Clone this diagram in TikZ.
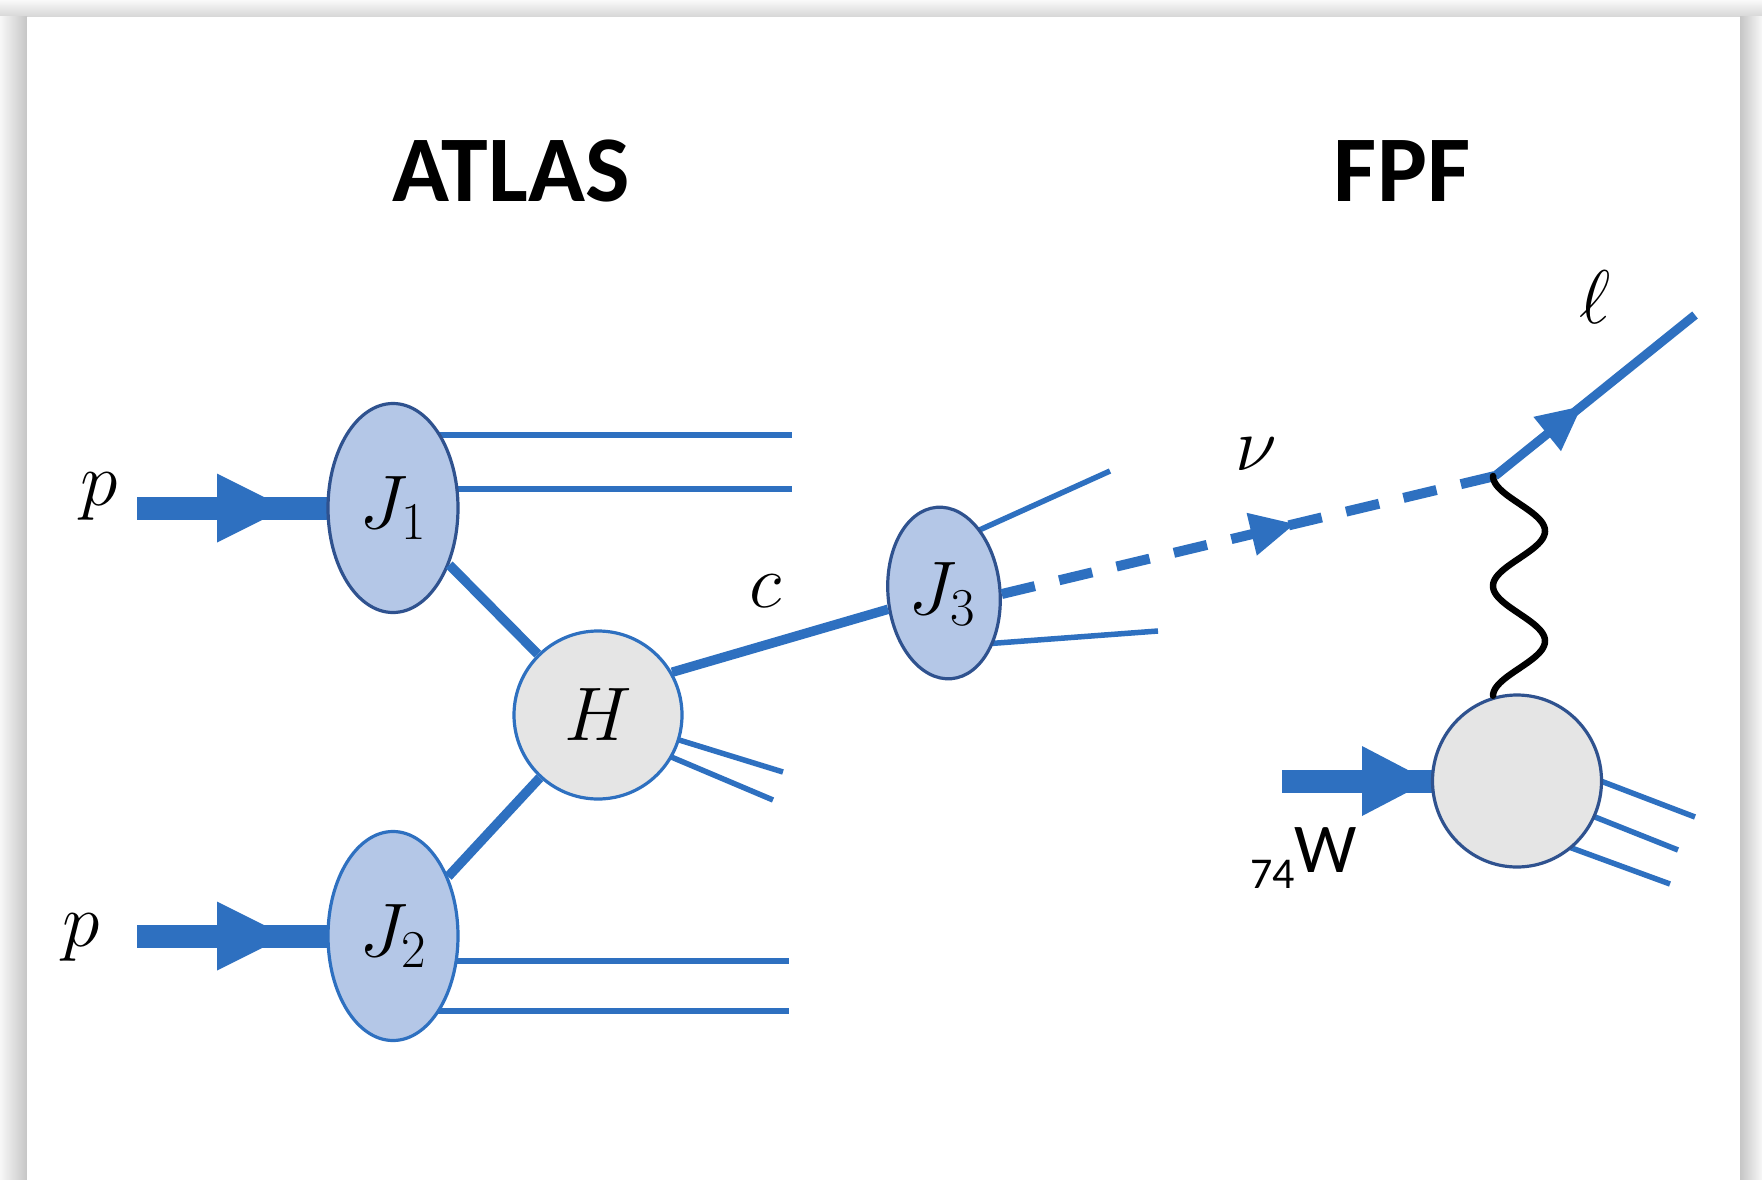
\documentclass[tikz,border=0pt]{standalone}
\usepackage{fix-cm}
\usepackage{fontspec}
\newfontfamily\calibri{Carlito}
\usetikzlibrary{calc,decorations.markings,shapes.geometric}
\pgfdeclarelayer{bg}
\pgfdeclarelayer{lines}
\pgfsetlayers{bg,lines,main}
\definecolor{lblue}{RGB}{46,112,192}
\definecolor{efill}{RGB}{180,199,231}
\definecolor{gfill}{RGB}{229,229,229}
\definecolor{dkb}{RGB}{47,82,143}
\tikzset{
  jet/.style={ellipse, fill=efill, line width=3.2pt, inner sep=0pt},
  blob/.style={ellipse, fill=gfill, line width=3.2pt, inner sep=0pt},
  thinline/.style={lblue, line width=5.5pt},
  thickline/.style={lblue, line width=9.5pt},
  barline/.style={lblue, line width=23pt},
  nuline/.style={lblue, line width=10pt, dash pattern=on 34pt off 25pt},
  lepline/.style={lblue, line width=9pt},
  waveline/.style={black, line width=6.5pt, line cap=round},
  mlabel/.style={font=\fontsize{76}{82}\selectfont, inner sep=0pt},
  title/.style={font=\calibri\bfseries\fontsize{94}{100}\selectfont, inner sep=0pt},
  arrowmark/.style n args={3}{postaction={decorate}, decoration={markings,
      mark=at position #1 with {\fill[lblue] (-#2pt,-#3pt) -- (0pt,0pt) -- (-#2pt,#3pt) -- cycle;}}}
}
\begin{document}
\begin{tikzpicture}[x=1pt,y=-1pt]
\useasboundingbox (0,0) rectangle (1762,1180);
% page with shadow
\begin{pgfonlayer}{bg}
  \fill[gray!8] (0,0) rectangle (1762,1180);
  \shade[top color=gray!5, bottom color=gray!32] (0,0) rectangle (1762,17);
  \shade[left color=gray!6, right color=gray!45] (0,17) rectangle (27,1180);
  \shade[left color=gray!45, right color=gray!6] (1740,17) rectangle (1762,1180);
  \fill[white] (27,17) rectangle (1740,1180);
\end{pgfonlayer}

% titles
\node[title] (atlas) at (511,171) {ATLAS};
\node[title] (fpf) at (1402,171) {FPF};

% blobs
\node[jet, draw=dkb, minimum width=130pt, minimum height=209pt] (J1) at (393,508)
  {\fontsize{76}{82}\selectfont\raisebox{10pt}{$J_1$}};
\node[jet, draw=lblue, minimum width=130pt, minimum height=209pt] (J2) at (393,936)
  {\fontsize{76}{82}\selectfont$J_2$};
\node[blob, draw=lblue, minimum width=168pt, minimum height=168pt] (H) at (598,715)
  {\fontsize{76}{82}\selectfont$H$};
\node[jet, draw=dkb, minimum width=112pt, minimum height=172pt, rotate=5] (J3) at (944,593) {};
\node[blob, draw=dkb, minimum width=169pt, minimum height=172pt] (N) at (1517,781) {};

% free ends
\coordinate (p1s) at (137,508);
\coordinate (p2s) at (137,936);
\coordinate (ws) at (1282,781);
\coordinate (a1) at (792,435);
\coordinate (a2) at (792,489);
\coordinate (b1) at (789,961);
\coordinate (b2) at (789,1011);
\coordinate (h1) at (783,772);
\coordinate (h2) at (773,800);
\coordinate (k1) at (1110,471);
\coordinate (k2) at (1158,631);
\coordinate (n1) at (1695,817);
\coordinate (n2) at (1678,850);
\coordinate (n3) at (1670,884);
\coordinate (vtx) at (1495,476);
\coordinate (lend) at (1695,315);

% lines under the blobs
\begin{pgfonlayer}{lines}
  \draw[barline, arrowmark={149pt}{69}{34.5}] (p1s) -- (J1.center);
  \draw[barline, arrowmark={149pt}{69}{34.5}] (p2s) -- (J2.center);
  \draw[barline, arrowmark={147pt}{67}{35}] (ws) -- (N.center);
  \draw[thinline] (J1 |- a1) -- (a1);
  \draw[thinline] (J1 |- a2) -- (a2);
  \draw[thinline] (J2 |- b1) -- (b1);
  \draw[thinline] (J2 |- b2) -- (b2);
  \draw[thinline] (H.center) -- (h1);
  \draw[thinline] ($(H.center)+(0,11)$) -- (h2);
  \draw[thinline] ($(J3.center)+(0,-47)$) -- (k1);
  \draw[thinline] ($(J3.center)+(0,54)$) -- (k2);
  \draw[thinline] ($(N.center)+(0,-32)$) -- (n1);
  \draw[thinline] ($(N.center)+(0,5)$) -- (n2);
  \draw[thinline] ($(N.center)+(0,47)$) -- (n3);
\end{pgfonlayer}

% connectors
\draw[thickline] (J1) -- (H);
\draw[thickline] (J2) -- (H);
\draw[thickline] (H.30) -- (J3);
\draw[nuline, arrowmark={301pt}{44}{22}] (J3.-6) -- (vtx);
\draw[lepline, arrowmark={111pt}{44}{22}] (vtx) -- (lend);
\draw[waveline] plot[domain=0:1, samples=120, smooth] ({1519-26*cos(720*\x)}, {476+220*\x});

% labels
\node[mlabel] (lj3) at (942,594) {$J_3$};
\node[mlabel] (lp1) at (99,497) {$p$};
\node[mlabel] (lp2) at (81,938) {$p$};
\node[mlabel] (lc) at (766,591) {$c$};
\node[mlabel] (lnu) at (1256,454) {$\nu$};
\node[mlabel] (lell) at (1595,297) {$\ell$};
\node[anchor=base west, inner sep=0pt] (lw) at (1250,872)
  {\calibri\raisebox{-16pt}{\fontsize{44}{48}\selectfont 74}\fontsize{70}{76}\selectfont W};
\end{tikzpicture}
\end{document}
